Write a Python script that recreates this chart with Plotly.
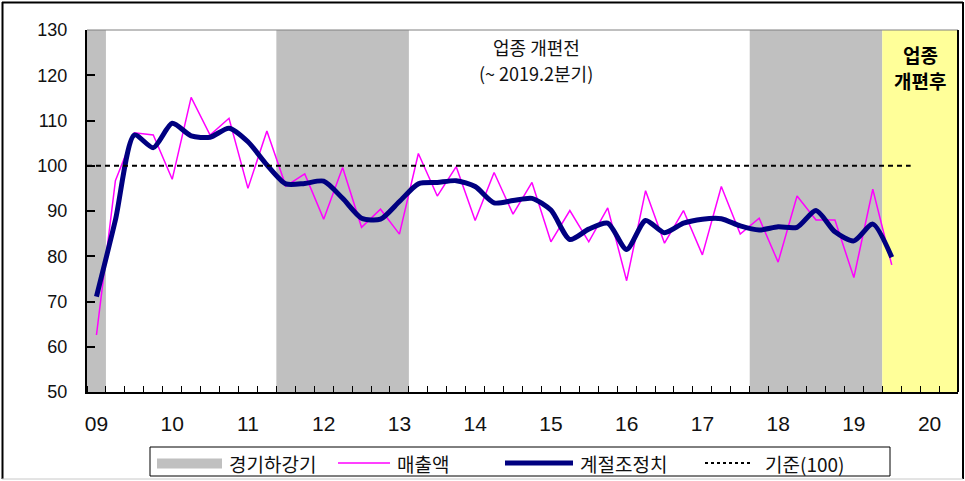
import plotly.graph_objects as go

# ---------------- data ----------------
quarters = [f"{y}Q{q}" for y in range(2009, 2021) for q in range(1, 5)][:46]  # 2009Q1 .. 2020Q2

sales = [62.6, 96.7, 107.3, 106.8, 97.0, 115.1, 106.8, 110.5, 95.0, 107.7,
         95.5, 98.2, 88.2, 99.6, 86.4, 90.4, 84.9, 102.7, 93.3, 99.8,
         87.9, 98.5, 89.3, 96.3, 83.2, 90.1, 83.2, 90.7, 74.6, 94.5,
         82.9, 90.1, 80.3, 95.4, 84.9, 88.4, 78.7, 93.3, 88.0, 88.0,
         75.3, 94.8, 78.1]

seasonal_adj = [71.1, 88.0, 106.8, 104.0, 109.4, 106.6, 106.3, 108.3, 105.3, 100.2,
                96.0, 96.1, 96.6, 92.8, 88.4, 88.2, 92.1, 96.0, 96.3, 96.7,
                95.4, 91.8, 92.3, 92.8, 90.2, 83.7, 86.0, 87.3, 81.5, 87.9,
                85.2, 87.3, 88.2, 88.3, 86.7, 85.8, 86.5, 86.4, 90.1, 85.4,
                83.4, 87.1, 79.8]

year_labels = ["09", "10", "11", "12", "13", "14", "15", "16", "17", "18", "19", "20"]
year_ticks = ["2009Q1", "2010Q1", "2011Q1", "2012Q1", "2013Q1", "2014Q1",
              "2015Q1", "2016Q1", "2017Q1", "2018Q1", "2019Q1", "2020Q1"]

recession_start = ["2009Q1", "2011Q3", "2017Q4"]
recession_end = ["2009Q1", "2013Q1", "2019Q2"]
reform_start = "2019Q3"
baseline = 100
baseline_end = "2019Q4"

y_ticks = [50, 60, 70, 80, 90, 100, 110, 120, 130]

# ---------------- layout helpers ----------------
W, H = 965, 481
L, R, T, B = 87, 7, 30, 89
PW, PH = W - L - R, H - T - B


def px(x):
    return (x - L) / PW


def py(y):
    return (H - B - y) / PH


idx = {q: i for i, q in enumerate(quarters)}
xi = list(range(len(sales)))

KFONT = "Noto Sans CJK KR, Noto Sans, sans-serif"

fig = go.Figure()

fig.add_trace(go.Scatter(x=xi, y=sales, mode="lines",
                         line=dict(color="#FF00FF", width=1.5),
                         name="매출액", showlegend=False))
fig.add_trace(go.Scatter(x=xi, y=seasonal_adj, mode="lines",
                         line=dict(color="#000080", width=5, shape="spline", smoothing=0.7),
                         name="계절조정치", showlegend=False))

shapes = []
for s, e in zip(recession_start, recession_end):
    shapes.append(dict(type="rect", xref="x", yref="paper",
                       x0=idx[s] - 0.5, x1=idx[e] + 0.5, y0=0, y1=1,
                       fillcolor="#C0C0C0", line=dict(width=0), layer="below"))
shapes.append(dict(type="rect", xref="x", yref="paper",
                   x0=idx[reform_start] - 0.5, x1=len(quarters) - 0.5, y0=0, y1=1,
                   fillcolor="#FFFF99", line=dict(width=0), layer="below"))
# baseline 100
shapes.append(dict(type="line", xref="x", yref="y",
                   x0=-0.5, x1=idx[baseline_end], y0=baseline, y1=baseline,
                   line=dict(color="black", width=2, dash="5px,4px")))
# plot top (gray) and right (black) borders
shapes.append(dict(type="line", xref="paper", yref="paper", x0=0, x1=1, y0=1, y1=1,
                   line=dict(color="#808080", width=1)))
shapes.append(dict(type="line", xref="paper", yref="paper", x0=1, x1=1, y0=0, y1=1,
                   line=dict(color="black", width=2)))
# outer figure border
shapes.append(dict(type="line", xref="paper", yref="paper", x0=px(2), x1=px(963), y0=py(2.5), y1=py(2.5),
                   line=dict(color="black", width=2)))
shapes.append(dict(type="line", xref="paper", yref="paper", x0=px(2.5), x1=px(2.5), y0=py(2), y1=py(479),
                   line=dict(color="black", width=2)))
shapes.append(dict(type="line", xref="paper", yref="paper", x0=px(963), x1=px(963), y0=py(2), y1=py(479),
                   line=dict(color="black", width=2)))
shapes.append(dict(type="line", xref="paper", yref="paper", x0=px(2), x1=px(963), y0=py(479), y1=py(479),
                   line=dict(color="#C8C8C8", width=1)))

# ---- manual legend ----
ly = 463
shapes.append(dict(type="rect", xref="paper", yref="paper",
                   x0=px(150), x1=px(890), y0=py(447), y1=py(476),
                   line=dict(color="black", width=1), fillcolor="white"))
shapes.append(dict(type="rect", xref="paper", yref="paper",
                   x0=px(157), x1=px(222), y0=py(458.5), y1=py(468.5),
                   line=dict(width=0), fillcolor="#C0C0C0"))
shapes.append(dict(type="line", xref="paper", yref="paper",
                   x0=px(338), x1=px(390), y0=py(ly), y1=py(ly),
                   line=dict(color="#FF00FF", width=1.5)))
shapes.append(dict(type="line", xref="paper", yref="paper",
                   x0=px(505), x1=px(573), y0=py(ly), y1=py(ly),
                   line=dict(color="#000080", width=5)))
shapes.append(dict(type="line", xref="paper", yref="paper",
                   x0=px(705), x1=px(750), y0=py(ly), y1=py(ly),
                   line=dict(color="black", width=2, dash="3px,3px")))

annotations = []
for txt, xl in [("경기하강기", 227), ("매출액", 395), ("계절조정치", 578), ("기준(100)", 763)]:
    annotations.append(dict(text=txt, xref="paper", yref="paper", x=px(xl), y=py(ly),
                            xanchor="left", yanchor="middle", showarrow=False,
                            font=dict(family=KFONT, size=19, color="#111111")))

annotations.append(dict(text="업종 개편전", xref="paper", yref="paper",
                        x=px(536), y=py(47), xanchor="center", yanchor="middle",
                        showarrow=False,
                        font=dict(family=KFONT, size=18, color="#111111")))
annotations.append(dict(text="(~ 2019.2분기)", xref="paper", yref="paper",
                        x=px(536), y=py(73), xanchor="center", yanchor="middle",
                        showarrow=False,
                        font=dict(family=KFONT, size=18, color="#111111")))
annotations.append(dict(text="<b>업종</b>", xref="paper", yref="paper",
                        x=px(920), y=py(54), xanchor="center", yanchor="middle",
                        showarrow=False,
                        font=dict(family=KFONT, size=19, color="black")))
annotations.append(dict(text="<b>개편후</b>", xref="paper", yref="paper",
                        x=px(920), y=py(80), xanchor="center", yanchor="middle",
                        showarrow=False,
                        font=dict(family=KFONT, size=19, color="black")))

fig.update_layout(
    width=W, height=H,
    margin=dict(l=L, r=R, t=T, b=B, pad=0),
    paper_bgcolor="white", plot_bgcolor="white",
    showlegend=False,
    shapes=shapes,
    annotations=annotations,
    xaxis=dict(range=[-0.5, len(quarters) - 0.5],
               tickmode="array", tickvals=[idx[q] for q in year_ticks], ticktext=year_labels,
               ticks="", showgrid=False, zeroline=False,
               showline=True, linecolor="black", linewidth=2,
               ticklabelstandoff=12,
               tickfont=dict(family="Liberation Sans Narrow, Liberation Sans, sans-serif", size=21, color="#111111"),
               minor=dict(tickmode="linear", tick0=0.5, dtick=1, ticks="inside",
                          ticklen=6, tickwidth=1, tickcolor="black", showgrid=False)),
    yaxis=dict(range=[50, 130], tickmode="array", tickvals=y_ticks,
               ticks="inside", ticklen=8, tickwidth=1.5, tickcolor="black",
               showgrid=False, zeroline=False,
               showline=True, linecolor="black", linewidth=2,
               ticklabelstandoff=14,
               tickfont=dict(family="Liberation Sans, Arial, sans-serif", size=18, color="#111111")),
)

fig.write_html("out.html", config={"displayModeBar": False},
               post_script="document.body.style.margin='0';document.body.style.overflow='hidden';")
